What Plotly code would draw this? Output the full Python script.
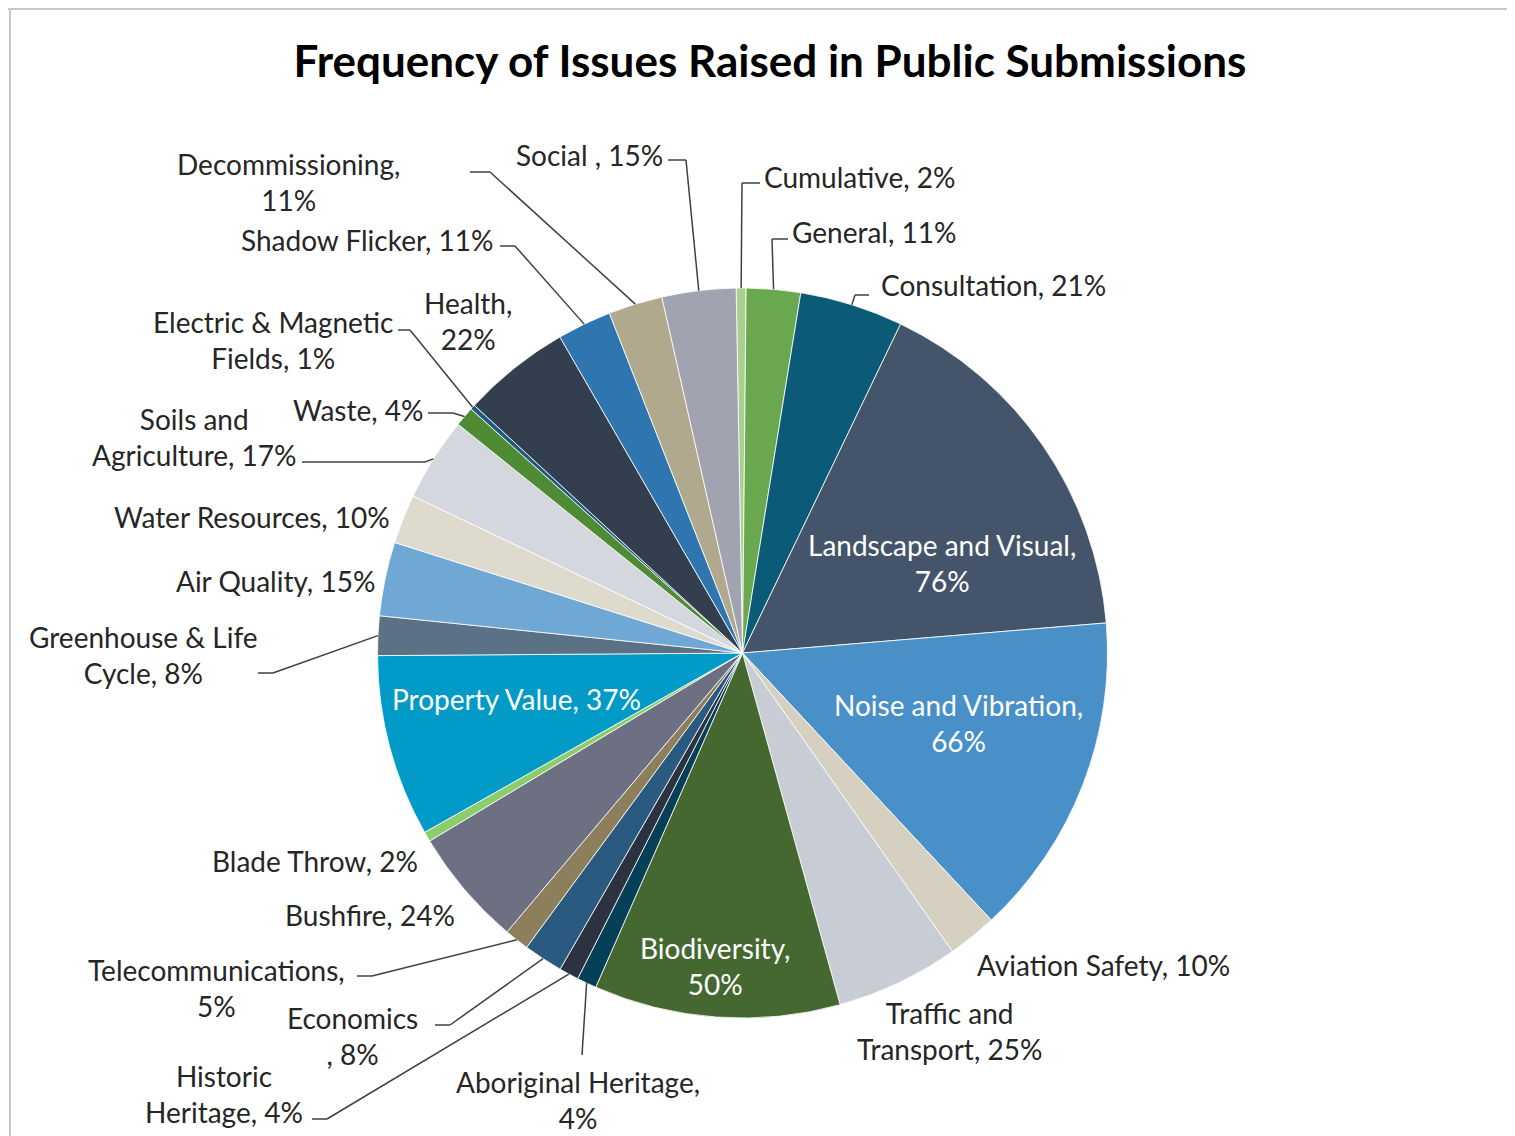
import math
import plotly.graph_objects as go

W, H = 1515, 1136
OFF = 8                     # page body margin of the browser
FW, FH = W - OFF, H - OFF   # figure size

# ---------------- data ----------------
categories = [
    "Cumulative", "General", "Consultation", "Landscape and Visual",
    "Noise and Vibration", "Aviation Safety", "Traffic and Transport",
    "Biodiversity", "Aboriginal Heritage", "Historic Heritage", "Economics",
    "Telecommunications", "Bushfire", "Blade Throw", "Property Value",
    "Greenhouse & Life Cycle", "Air Quality", "Water Resources",
    "Soils and Agriculture", "Waste", "Electric & Magnetic Fields", "Health",
    "Shadow Flicker", "Decommissioning", "Social",
]
percent_values = [2, 11, 21, 76, 66, 10, 25, 50, 4, 4, 8, 5, 24, 2, 37,
                  8, 15, 10, 17, 4, 1, 22, 11, 11, 15]

title_text = "Frequency of Issues Raised in Public Submissions"

# ---------------- styles ----------------
colors = [
    "#a9d08e", "#6aa84f", "#0a5a78", "#44546a", "#4a90c8", "#d5d0bf",
    "#c8ccd5", "#44682f", "#063f58", "#2b3340", "#2a5a80", "#8d7f5b",
    "#6c7082", "#8ccc6a", "#029ac7", "#5b7185", "#6fa8d5", "#dfdace",
    "#d4d7de", "#4f8b34", "#1f5a80", "#333f4e", "#2f75b0", "#b0a98d",
    "#a1a3b1",
]

FONT = "Lato"
LABEL_SIZE = 28
DARK = "#262626"
WHITE = "#ffffff"
CX, CY, R = 742.5, 653.0, 365.0   # pie centre / radius in screen pixels
ROT = -1.0                         # start angle of first slice

# label layout: text format, anchor position (px), xanchor, colour, leader (elbow, end) in px
label_layout = {
    "Cumulative": ("Cumulative, {v}%", (762, 177), "left", DARK, ((742, 183), (760, 183))),
    "General": ("General, {v}%", (790, 232), "left", DARK, ((772, 239), (788, 239))),
    "Consultation": ("Consultation, {v}%", (879, 285), "left", DARK, ((855, 295), (869, 295))),
    "Landscape and Visual": ("Landscape and Visual,<br>{v}%", (942, 563), "center", WHITE, None),
    "Noise and Vibration": ("Noise and Vibration,<br>{v}%", (958, 723), "center", WHITE, None),
    "Aviation Safety": ("Aviation Safety, {v}%", (975, 965), "left", DARK, None),
    "Traffic and Transport": ("Traffic and<br>Transport, {v}%", (949, 1031), "center", DARK, None),
    "Biodiversity": ("Biodiversity,<br>{v}%", (715, 966), "center", WHITE, None),
    "Aboriginal Heritage": ("Aboriginal Heritage,<br>{v}%", (578, 1100), "center", DARK, ((582, 1055), (582, 1055))),
    "Historic Heritage": ("Historic<br>Heritage, {v}%", (224, 1094), "center", DARK, ((327, 1119), (312, 1119))),
    "Economics": ("Economics<br>, {v}%", (352, 1036), "center", DARK, ((450, 1025), (435, 1025))),
    "Telecommunications": ("Telecommunications,<br>{v}%", (216, 988), "center", DARK, ((372, 976), (357, 976))),
    "Bushfire": ("Bushfire, {v}%", (457, 915), "right", DARK, None),
    "Blade Throw": ("Blade Throw, {v}%", (420, 861), "right", DARK, None),
    "Property Value": ("Property Value, {v}%", (516, 699), "center", WHITE, None),
    "Greenhouse & Life Cycle": ("Greenhouse & Life<br>Cycle, {v}%", (143, 655), "center", DARK, ((273, 673), (258, 673))),
    "Air Quality": ("Air Quality, {v}%", (377, 581), "right", DARK, None),
    "Water Resources": ("Water Resources, {v}%", (392, 517), "right", DARK, None),
    "Soils and Agriculture": ("Soils and<br>Agriculture, {v}%", (194, 437), "center", DARK, ((425, 462), (302, 462))),
    "Waste": ("Waste, {v}%", (425, 410), "right", DARK, ((453, 413), (428, 413))),
    "Electric & Magnetic Fields": ("Electric & Magnetic<br>Fields, {v}%", (273, 340), "center", DARK, ((410, 330), (398, 330))),
    "Health": ("Health,<br>{v}%", (468, 321), "center", DARK, None),
    "Shadow Flicker": ("Shadow Flicker, {v}%", (495, 240), "right", DARK, ((515, 246), (500, 246))),
    "Decommissioning": ("Decommissioning,<br>{v}%", (288, 182), "center", DARK, ((490, 172), (470, 172))),
    "Social": ("Social , {v}%", (665, 155), "right", DARK, ((686, 160), (668, 160))),
}


def px(x):
    return (x - OFF) / FW


def py(y):
    return 1 - (y - OFF) / FH


fig = go.Figure()
fig.add_trace(go.Pie(
    labels=categories,
    values=percent_values,
    sort=False,
    direction="clockwise",
    rotation=ROT,
    marker=dict(colors=colors, line=dict(color="white", width=0.8)),
    textinfo="none",
    hoverinfo="label+value",
    showlegend=False,
    domain=dict(x=[px(CX - R), px(CX + R)], y=[py(CY + R), py(CY - R)]),
))

total = sum(percent_values)
annotations = []
shapes = []
cum = 0.0
for cat, val in zip(categories, percent_values):
    mid = ROT + (cum + val / 2.0) / total * 360.0
    cum += val
    fmt, (lx, ly), xa, col, leader = label_layout[cat]
    annotations.append(dict(
        x=px(lx), y=py(ly), xref="paper", yref="paper",
        text=fmt.format(v=val), showarrow=False,
        xanchor=xa, yanchor="middle", align="center",
        font=dict(family=FONT, size=LABEL_SIZE, color=col),
    ))
    if leader is not None:
        a = math.radians(mid)
        sx = CX + R * math.sin(a)
        sy = CY - R * math.cos(a)
        (ex, ey), (tx, ty) = leader
        for (x0, y0, x1, y1) in [(sx, sy, ex, ey), (ex, ey, tx, ty)]:
            shapes.append(dict(type="line", xref="paper", yref="paper",
                               x0=px(x0), y0=py(y0), x1=px(x1), y1=py(y1),
                               line=dict(color="#404040", width=1.5)))

# frame border (top and left)
shapes.append(dict(type="line", xref="paper", yref="paper", x0=0, y0=py(9), x1=1, y1=py(9),
                   line=dict(color="#c8c8c8", width=2)))
shapes.append(dict(type="line", xref="paper", yref="paper", x0=px(10), y0=py(9), x1=px(10), y1=0,
                   line=dict(color="#c8c8c8", width=2)))

fig.update_layout(
    width=FW, height=FH,
    margin=dict(l=0, r=0, t=0, b=0),
    paper_bgcolor="white",
    plot_bgcolor="white",
    title=dict(text="<b>" + title_text + "</b>", x=px(770), y=py(62),
               xanchor="center", yanchor="middle",
               font=dict(family=FONT, size=44, color="#000000")),
    annotations=annotations,
    shapes=shapes,
)

fig.write_html("out.html")
